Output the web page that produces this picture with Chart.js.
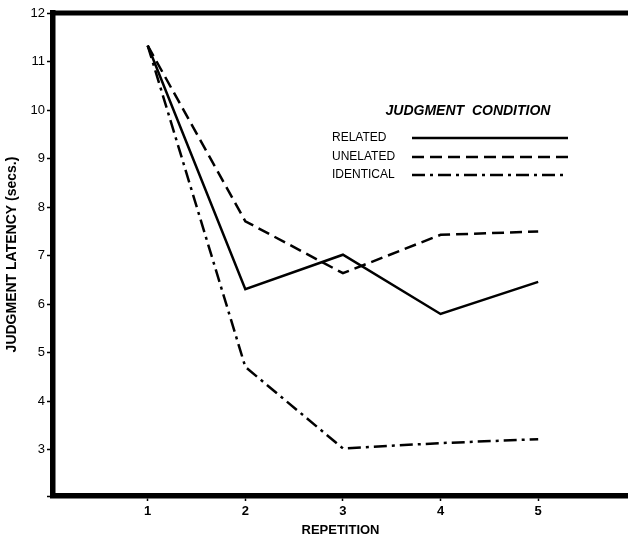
<!DOCTYPE html>
<html>
<head>
<meta charset="utf-8">
<script src="https://cdn.jsdelivr.net/npm/chart.js@4.4.0/dist/chart.umd.min.js"></script>
<style>
  html, body { margin: 0; padding: 0; background: #fff; }
  #wrap { width: 628px; height: 540px; }
</style>
</head>
<body>
<div id="wrap"><canvas id="grafico"></canvas></div>
<script>
// dados
const repeticoes = [1, 2, 3, 4, 5];
const related = [11.33, 6.31, 7.02, 5.8, 6.46];
const unrelated = [11.33, 7.71, 6.64, 7.43, 7.5];
const identical = [11.33, 4.71, 3.03, 3.14, 3.22];
const yTicks = [3, 4, 5, 6, 7, 8, 9, 10, 11, 12];
const legendTitle = 'JUDGMENT  CONDITION';
const FONT = '"Liberation Sans", Arial, sans-serif';

function pontos(valores) {
    return repeticoes.map((r, i) => ({ x: r, y: valores[i] }));
}

// legenda desenhada dentro da área do gráfico, texto à esquerda e linha à direita
const legendaPlugin = {
    id: 'legendaCustom',
    afterDraw(chart) {
        const c = chart.ctx;
        c.save();
        c.fillStyle = '#000';
        c.font = 'italic bold 14px ' + FONT;
        c.textAlign = 'center';
        c.textBaseline = 'middle';
        c.fillText(legendTitle, 468, 111);
        const ys = [138, 157, 175];
        chart.data.datasets.forEach((ds, i) => {
            c.font = '12px ' + FONT;
            c.textAlign = 'left';
            c.fillText(ds.label, 332, ys[i]);
            c.strokeStyle = '#000';
            c.lineWidth = ds.borderWidth;
            c.setLineDash(ds.borderDash || []);
            c.beginPath();
            c.moveTo(412, ys[i]);
            c.lineTo(568, ys[i]);
            c.stroke();
        });
        c.setLineDash([]);
        // borda superior
        const a = chart.chartArea;
        c.lineWidth = 5;
        c.beginPath();
        c.moveTo(a.left - 2, a.top);
        c.lineTo(chart.width, a.top);
        c.stroke();
        c.restore();
    }
};

const ctx = document.getElementById('grafico').getContext('2d');
new Chart(ctx, {
    type: 'line',
    data: {
        datasets: [
            {
                label: 'RELATED',
                data: pontos(related),
                borderColor: '#000',
                borderWidth: 2.5,
                pointRadius: 0
            },
            {
                label: 'UNELATED',
                data: pontos(unrelated),
                borderColor: '#000',
                borderWidth: 2.5,
                borderDash: [12, 6],
                pointRadius: 0
            },
            {
                label: 'IDENTICAL',
                data: pontos(identical),
                borderColor: '#000',
                borderWidth: 2.5,
                borderDash: [13, 5, 3, 5],
                pointRadius: 0
            }
        ]
    },
    options: {
        responsive: true,
        maintainAspectRatio: false,
        animation: false,
        layout: { padding: { top: 13, right: 0, left: 0, bottom: 0 } },
        plugins: {
            legend: { display: false },
            tooltip: { enabled: false }
        },
        scales: {
            x: {
                type: 'linear',
                min: 0.03,
                max: 5.92,
                afterBuildTicks: (s) => { s.ticks = repeticoes.map(v => ({ value: v })); },
                afterFit: (s) => { s.height = 44; },
                title: {
                    display: true,
                    text: 'REPETITION',
                    color: '#000',
                    font: { size: 13, weight: 'bold', family: FONT },
                    padding: { top: 1, bottom: 2 }
                },
                grid: {
                    drawOnChartArea: false,
                    color: '#000',
                    tickLength: 5,
                    tickWidth: 1.5
                },
                border: { display: true, color: '#000', width: 5.5 },
                ticks: {
                    color: '#000',
                    padding: 3,
                    font: { size: 13, weight: 'bold', family: FONT }
                }
            },
            y: {
                min: 2.05,
                max: 12,
                afterBuildTicks: (s) => { s.ticks = [{ value: 2.05 }].concat(yTicks.map(v => ({ value: v }))); },
                afterFit: (s) => { s.width = 53; },
                title: {
                    display: true,
                    text: 'JUDGMENT LATENCY (secs.)',
                    color: '#000',
                    font: { size: 14, weight: 'bold', family: FONT },
                    padding: { top: 4, bottom: 2 }
                },
                grid: {
                    drawOnChartArea: false,
                    color: '#000',
                    tickLength: 6,
                    tickWidth: 1.5
                },
                border: { display: true, color: '#000', width: 5.5 },
                ticks: {
                    color: '#000',
                    padding: 2,
                    font: { size: 13, family: FONT },
                    callback: (v) => (yTicks.includes(v) ? String(v) : '')
                }
            }
        }
    },
    plugins: [legendaPlugin]
});
</script>
</body>
</html>
